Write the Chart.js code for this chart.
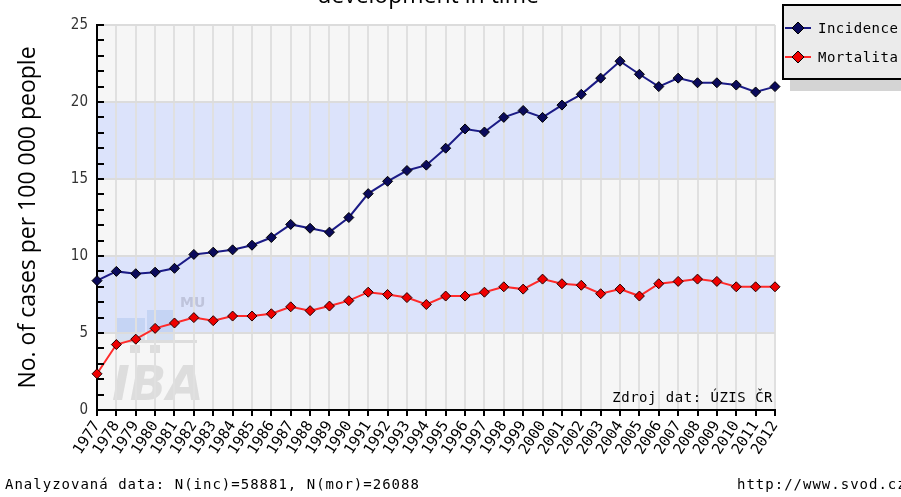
<!DOCTYPE html>
<html>
<head>
<meta charset="utf-8">
<script src="https://cdn.jsdelivr.net/npm/chart.js@4.4.1/dist/chart.umd.min.js"></script>
<style>
  html, body { margin: 0; padding: 0; background: #fff; }
  #wrap { width: 901px; height: 497px; overflow: hidden; }
</style>
</head>
<body>
<div id="wrap"><canvas id="chart" width="901" height="497"></canvas></div>
<script>
// ── Data ────────────────────────────────────────────────────────────────────
const years = [
  '1977', '1978', '1979', '1980', '1981', '1982', '1983', '1984', '1985', '1986',
  '1987', '1988', '1989', '1990', '1991', '1992', '1993', '1994', '1995', '1996',
  '1997', '1998', '1999', '2000', '2001', '2002', '2003', '2004', '2005', '2006',
  '2007', '2008', '2009', '2010', '2011', '2012'
];

const incidence = [
  8.4, 9.0, 8.85, 8.95, 9.2, 10.1, 10.25, 10.4, 10.7, 11.2,
  12.05, 11.8, 11.55, 12.5, 14.05, 14.85, 15.55, 15.9, 17.0, 18.25,
  18.05, 19.0, 19.45, 19.0, 19.8, 20.5, 21.55, 22.65, 21.8, 21.0,
  21.55, 21.25, 21.25, 21.1, 20.65, 21.0
];

const mortality = [
  2.35, 4.25, 4.6, 5.3, 5.65, 6.0, 5.8, 6.1, 6.1, 6.25,
  6.7, 6.45, 6.75, 7.1, 7.65, 7.5, 7.3, 6.85, 7.4, 7.4,
  7.65, 8.0, 7.85, 8.5, 8.2, 8.1, 7.55, 7.85, 7.4, 8.2,
  8.35, 8.5, 8.35, 8.0, 8.0, 8.0
];

const yTickLabels = [0, 5, 10, 15, 20, 25];
const bands = [[5, 10], [15, 20]];

const chartTitle = 'development in time';
const yTitle = 'No. of cases per 100 000 people';
const sourceNote = 'Zdroj dat: ÚZIS ČR';
const footNote = 'Analyzovaná data: N(inc)=58881, N(mor)=26088';
const urlNote = 'http://www.svod.cz';

const MONO = '"DejaVu Sans Mono", "Liberation Mono", monospace';

// ── Plugin: pozadí, pásy, popisky, legenda ──────────────────────────────────
const decorPlugin = {
  id: 'decor',
  beforeDraw(chart) {
    const { ctx, chartArea: a, scales: { y } } = chart;
    ctx.save();
    ctx.fillStyle = '#f6f6f6';
    ctx.fillRect(a.left, a.top, a.right - a.left, a.bottom - a.top);
    ctx.fillStyle = '#dce3fb';
    bands.forEach(([lo, hi]) => {
      const yTop = y.getPixelForValue(hi);
      const yBot = y.getPixelForValue(lo);
      ctx.fillRect(a.left, yTop, a.right - a.left, yBot - yTop);
    });

    // vodoznak IBA
    ctx.globalAlpha = 0.35;
    ctx.fillStyle = '#9cb8e8';
    ctx.fillRect(117, 318, 28, 22);
    ctx.fillRect(147, 310, 26, 30);
    ctx.fillStyle = '#b0b0b0';
    ctx.fillRect(117, 340, 80, 3);
    ctx.fillRect(130, 345, 10, 8);
    ctx.fillRect(150, 345, 10, 8);
    ctx.font = 'italic bold 48px "DejaVu Sans", sans-serif';
    ctx.fillText('IBA', 112, 400);
    ctx.font = 'bold 14px "DejaVu Sans", sans-serif';
    ctx.fillStyle = '#8a8aa0';
    ctx.fillText('MU', 180, 307);
    ctx.restore();
  },
  afterDatasetsDraw(chart) {
    const { ctx, chartArea: a, scales: { y } } = chart;
    ctx.save();
    // vnitřní značky na ose y
    ctx.strokeStyle = '#000';
    ctx.lineWidth = 2;
    y.ticks.forEach(t => {
      const py = Math.round(y.getPixelForValue(t.value));
      ctx.beginPath();
      ctx.moveTo(a.left, py);
      ctx.lineTo(a.left + 7, py);
      ctx.stroke();
    });
    ctx.restore();
  },
  afterDraw(chart) {
    const { ctx, chartArea: a } = chart;
    ctx.save();

    // název (oříznutý nahoře)
    ctx.fillStyle = '#000';
    ctx.font = '23px "Open Sans", sans-serif';
    ctx.textAlign = 'center';
    ctx.textBaseline = 'alphabetic';
    ctx.fillText(chartTitle, 428, 3);

    ctx.font = '14px ' + MONO;
    ctx.letterSpacing = '0.5px';
    ctx.textAlign = 'right';
    ctx.fillText(sourceNote, a.right - 2, a.bottom - 8);

    ctx.letterSpacing = '1px';
    ctx.textAlign = 'left';
    ctx.fillText(footNote, 5, 489);
    ctx.fillText(urlNote, 737, 489);

    // legenda
    ctx.fillStyle = '#d4d4d4';
    ctx.fillRect(790, 80, 120, 11);
    ctx.fillStyle = '#ebebeb';
    ctx.fillRect(783, 5, 130, 74);
    ctx.strokeStyle = '#000';
    ctx.lineWidth = 2;
    ctx.strokeRect(783, 5, 130, 74);

    ctx.letterSpacing = '0.5px';
    chart.data.datasets.forEach((ds, i) => {
      const cy = 28 + i * 29;
      ctx.strokeStyle = ds.borderColor;
      ctx.lineWidth = 2;
      ctx.beginPath();
      ctx.moveTo(785, cy);
      ctx.lineTo(811, cy);
      ctx.stroke();
      ctx.beginPath();
      ctx.moveTo(798, cy - 6);
      ctx.lineTo(804, cy);
      ctx.lineTo(798, cy + 6);
      ctx.lineTo(792, cy);
      ctx.closePath();
      ctx.fillStyle = ds.pointBackgroundColor;
      ctx.fill();
      ctx.strokeStyle = '#000';
      ctx.lineWidth = 1;
      ctx.stroke();
      ctx.fillStyle = '#000';
      ctx.textBaseline = 'middle';
      ctx.fillText(ds.label, 818, cy + 1);
    });
    ctx.restore();
  }
};

// ── Graf ────────────────────────────────────────────────────────────────────
new Chart(document.getElementById('chart'), {
  type: 'line',
  data: {
    labels: years,
    datasets: [
      {
        label: 'Incidence',
        data: incidence,
        borderColor: '#1b1b86',
        borderWidth: 2,
        pointStyle: 'rectRot',
        pointRadius: 5,
        pointBackgroundColor: '#0a0a5a',
        pointBorderColor: '#000',
        pointBorderWidth: 1,
        tension: 0,
      },
      {
        label: 'Mortalita',
        data: mortality,
        borderColor: '#ff2a2a',
        borderWidth: 2,
        pointStyle: 'rectRot',
        pointRadius: 5,
        pointBackgroundColor: '#ee0000',
        pointBorderColor: '#220000',
        pointBorderWidth: 1,
        tension: 0,
      },
    ],
  },
  options: {
    responsive: false,
    animation: false,
    layout: { padding: { top: 25, right: 126, left: 0, bottom: 0 } },
    plugins: {
      legend: { display: false },
      tooltip: { enabled: false },
    },
    scales: {
      x: {
        type: 'category',
        offset: false,
        afterFit: s => { s.height = 87; },
        border: { color: '#000', width: 2 },
        grid: {
          offset: false,
          color: '#e0e0e0',
          lineWidth: 2,
          drawTicks: true,
          tickLength: 6,
          tickColor: '#000',
          tickWidth: 2,
        },
        ticks: {
          autoSkip: false,
          minRotation: 57,
          maxRotation: 57,
          padding: 2,
          color: '#000',
          font: { family: MONO, size: 15 },
        },
      },
      y: {
        min: 0,
        max: 25,
        afterFit: s => { s.width = 97; },
        border: { color: '#000', width: 2 },
        grid: {
          drawTicks: false,
          lineWidth: 2,
          color: c => (c.tick && c.tick.value % 5 === 0 && c.tick.value !== 0 ? '#dcdcdc' : 'transparent'),
        },
        ticks: {
          stepSize: 1,
          autoSkip: false,
          padding: 9,
          color: '#333',
          font: { family: '"DejaVu Sans Condensed", "DejaVu Sans", sans-serif', size: 15 },
          callback: v => (yTickLabels.includes(v) ? String(v) : ''),
        },
        title: {
          display: true,
          text: yTitle,
          color: '#000',
          padding: { top: 15, bottom: 0 },
          font: { family: '"Open Sans", sans-serif', size: 23 },
        },
      },
    },
  },
  plugins: [decorPlugin],
});
</script>
</body>
</html>
